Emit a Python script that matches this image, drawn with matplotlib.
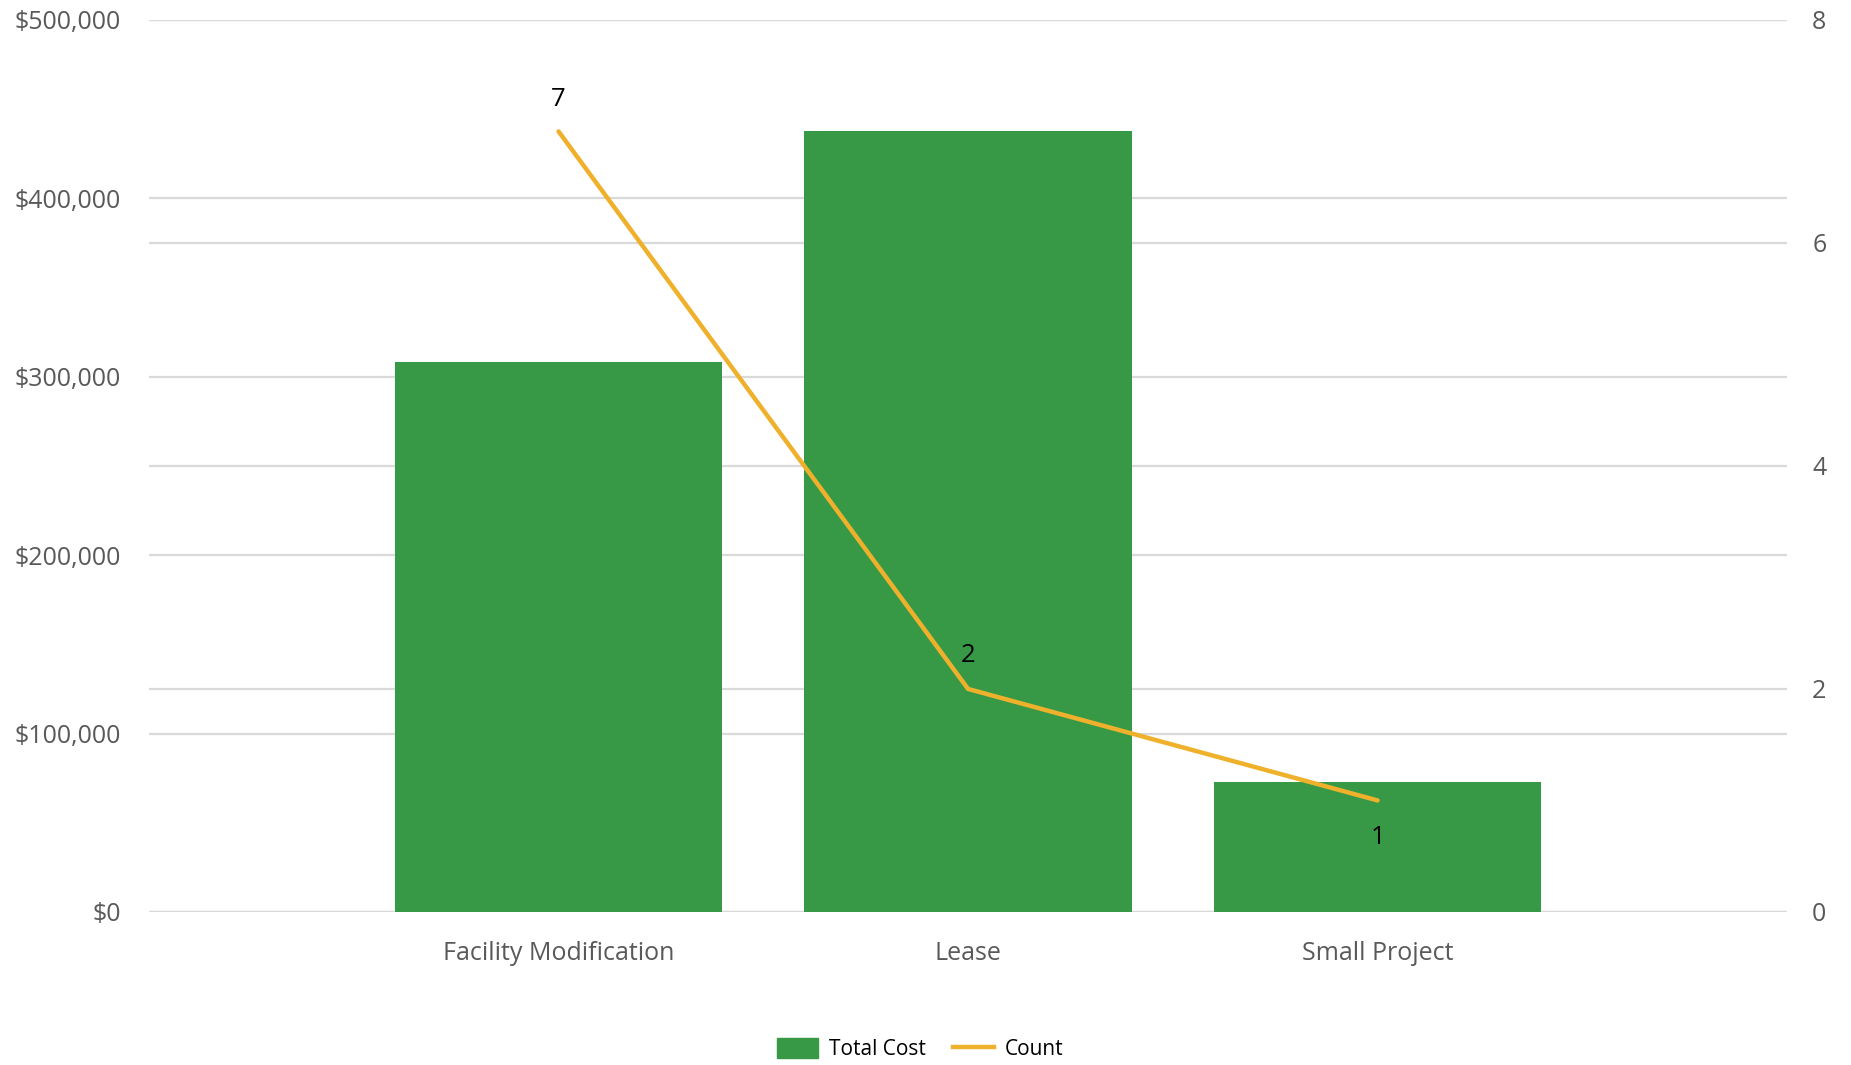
import matplotlib
matplotlib.use('Agg')
import matplotlib.pyplot as plt
import numpy as np
from matplotlib.patches import Patch
from matplotlib.lines import Line2D
from matplotlib.ticker import FuncFormatter

plt.rcParams['font.family'] = ['Open Sans', 'DejaVu Sans']

categories = ['Facility Modification', 'Lease', 'Small Project']
total_cost = [308500, 438000, 72700]
counts = [7, 2, 1]

green = '#379846'
gold = '#EFB12B'
grid_c = '#D9D9D9'
text_c = '#595959'

fig = plt.figure(figsize=(18.51, 10.65), dpi=100)
ax2 = fig.add_axes([0.0805, 0.1437, 0.885, 0.8376])
ax = fig.add_axes([0.0805, 0.1437, 0.885, 0.8376], sharex=ax2)
ax.set_zorder(ax2.get_zorder() + 1)
ax.patch.set_visible(False)

x = np.arange(len(categories))
ax.bar(x, total_cost, width=0.8, color=green, zorder=2)

# count line drawn on the front axes but in the right-axis scale
ax.plot(x, counts, color=gold, lw=3.2, solid_capstyle='round', zorder=3,
        transform=ax2.transData)
offsets = [(0, 23), (0, 24), (0, -27)]
for xi, c, off in zip(x, counts, offsets):
    ax.annotate(str(c), (xi, c), xycoords=ax2.transData, textcoords='offset points',
                xytext=off, ha='center', va='center', fontsize=18.5, color='black',
                zorder=4)

ax.set_xlim(-1, 3)
ax.set_ylim(0, 500000)
ax2.set_ylim(0, 8)
ax.set_yticks(np.arange(0, 500001, 100000))
ax2.set_yticks(np.arange(0, 9, 2))
ax.yaxis.set_major_formatter(FuncFormatter(lambda v, p: '${:,.0f}'.format(v)))

ax.grid(axis='y', color=grid_c, lw=1.6, zorder=0)
ax.set_axisbelow(True)
ax2.grid(axis='y', color=grid_c, lw=1.6)
ax2.yaxis.tick_right()

ax.set_xticks(x)
ax.set_xticklabels(categories)
for a in (ax, ax2):
    for s in a.spines.values():
        s.set_visible(False)
    a.tick_params(length=0, labelsize=18, labelcolor=text_c)
ax.tick_params(axis='y', pad=20)
ax.tick_params(axis='x', pad=21)
ax2.tick_params(axis='y', pad=18)
ax2.tick_params(axis='x', labelbottom=False)

handles = [Patch(color=green, label='Total Cost'),
           Line2D([0], [0], color=gold, lw=3.2, label='Count')]
fig.legend(handles=handles, loc='lower center', bbox_to_anchor=(0.497, -0.013),
           ncol=2, frameon=False, fontsize=15, handlelength=2, handleheight=1.1,
           columnspacing=1.3, handletextpad=0.5)

fig.savefig('out.png', dpi=100)
